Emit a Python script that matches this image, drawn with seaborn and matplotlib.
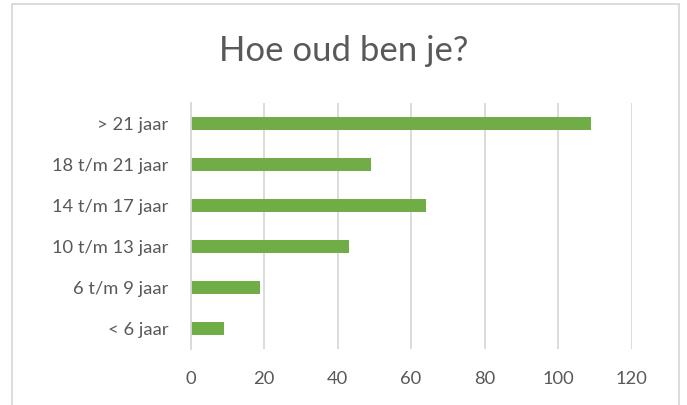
import matplotlib
matplotlib.use("Agg")
import matplotlib.pyplot as plt
import seaborn as sns
import pandas as pd
from matplotlib.patches import Rectangle

# data (top to bottom)
categories = ["> 21 jaar", "18 t/m 21 jaar", "14 t/m 17 jaar",
              "10 t/m 13 jaar", "6 t/m 9 jaar", "< 6 jaar"]
counts = [109, 49, 64, 43, 19, 9]
x_ticks = [0, 20, 40, 60, 80, 100, 120]

df = pd.DataFrame({"leeftijd": categories, "aantal": counts})

sns.set_style("white")
plt.rcParams['font.family'] = ['Lato', 'DejaVu Sans']

text_color = "#595959"
grid_color = "#d9d9d9"
bar_color = "#70ad47"

fig = plt.figure(figsize=(6.87, 4.05), dpi=100)
ax = fig.add_axes([0.2773, 0.1383, 0.6422, 0.6074])

sns.barplot(data=df, x="aantal", y="leeftijd", order=categories,
            color=bar_color, saturation=1, width=0.34, linewidth=0, ax=ax)

ax.set_xlim(0, 120)
ax.set_ylim(5.5, -0.5)
ax.set_xticks(x_ticks)
ax.set_xticklabels([str(t) for t in x_ticks])
ax.set_xlabel("")
ax.set_ylabel("")
ax.grid(axis="x", color=grid_color, linewidth=1.3)
ax.set_axisbelow(True)
for side in ["top", "right", "bottom"]:
    ax.spines[side].set_visible(False)
ax.spines["left"].set_color(grid_color)
ax.spines["left"].set_linewidth(1.3)
ax.tick_params(axis="x", length=0, pad=16, labelsize=13.2, labelcolor=text_color)
ax.tick_params(axis="y", length=0, pad=16, labelsize=13.2, labelcolor=text_color)

fig.text(0.5, 0.875, "Hoe oud ben je?", ha="center", va="center",
         fontsize=25, color=text_color)

# chart frame
fig.patches.append(Rectangle((12 / 687, -0.05), (679 - 12) / 687, 1.05 - 4 / 405,
                             transform=fig.transFigure, fill=False,
                             edgecolor=grid_color, linewidth=1.3))

fig.savefig("out.png", dpi=100, facecolor="white")
